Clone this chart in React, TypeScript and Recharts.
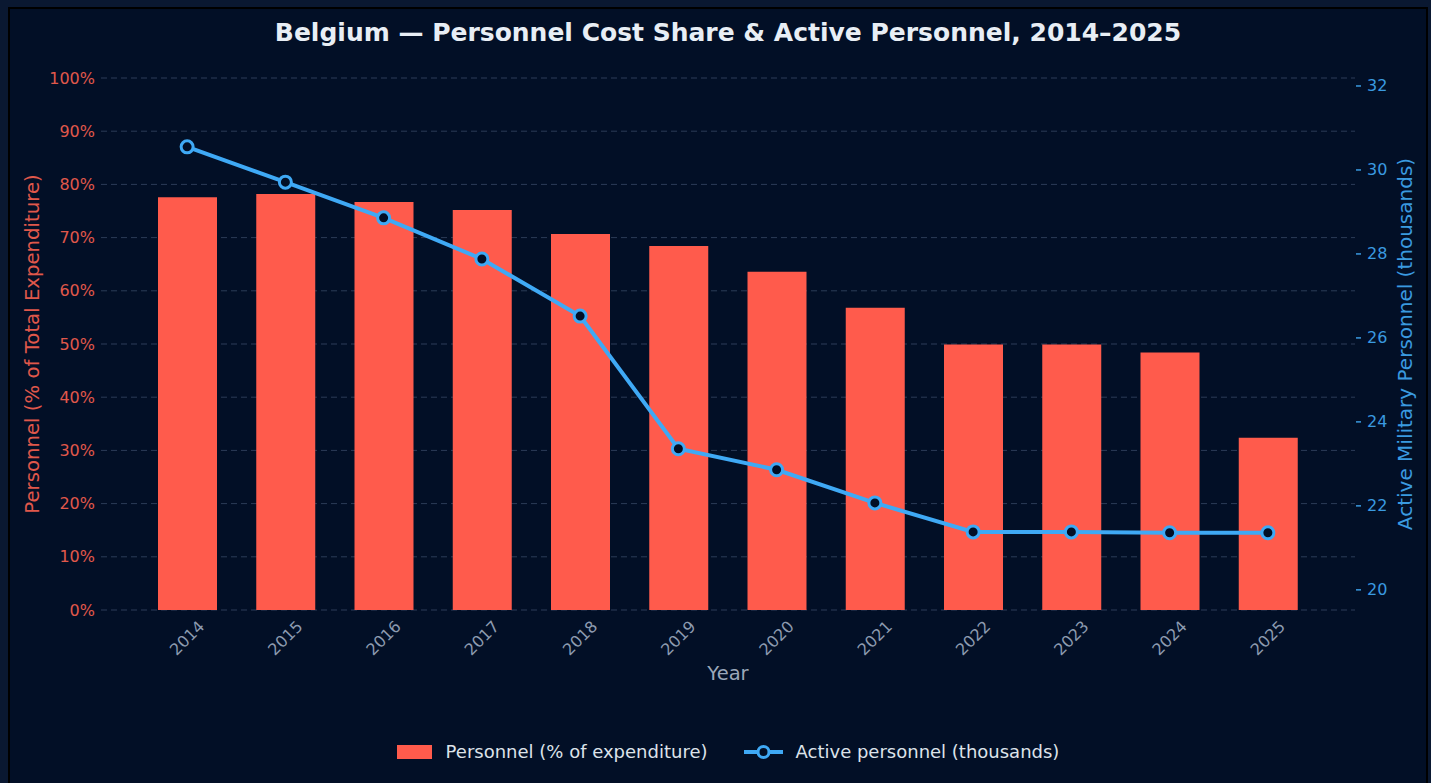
import React from 'react';
import { ComposedChart, Bar, Line, XAxis, YAxis, CartesianGrid } from 'recharts';

const YEARS = ['2014', '2015', '2016', '2017', '2018', '2019', '2020', '2021', '2022', '2023', '2024', '2025'];
// personnel cost as % of total defence expenditure
const PERSONNEL_SHARE = [77.6, 78.2, 76.7, 75.2, 70.7, 68.4, 63.6, 56.8, 49.9, 49.9, 48.4, 32.4];
// active military personnel, thousands
const ACTIVE_PERSONNEL = [30.55, 29.71, 28.86, 27.88, 26.52, 23.36, 22.86, 22.07, 21.38, 21.38, 21.36, 21.36];
const LEFT_TICKS = [0, 10, 20, 30, 40, 50, 60, 70, 80, 90, 100];
const RIGHT_TICKS = [20, 22, 24, 26, 28, 30, 32];

const BG = '#020f26';
const RED = '#ff5b4c';
const RED_TEXT = '#e0584b';
const BLUE = '#3fa9f5';
const BLUE_TEXT = '#3a9ae0';
const GREY = '#8d9bb0';

const data = YEARS.map((year, i) => ({
  year,
  share: PERSONNEL_SHARE[i],
  active: ACTIVE_PERSONNEL[i],
}));

const XTick = (props: any) => {
  const { x, y, payload } = props;
  const cy = y + 28;
  return (
    <text
      x={x}
      y={cy}
      fill={GREY}
      fontSize={16}
      textAnchor="middle"
      dominantBaseline="central"
      transform={`rotate(-45 ${x} ${cy})`}
    >
      {payload.value}
    </text>
  );
};

const RightTick = (props: any) => {
  const { x, y, payload } = props;
  return (
    <g>
      <line x1={x + 1} x2={x + 6} y1={y} y2={y} stroke={BLUE_TEXT} strokeWidth={1.5} />
      <text x={x + 12} y={y} fill={BLUE_TEXT} fontSize={16} textAnchor="start" dominantBaseline="central">
        {payload.value}
      </text>
    </g>
  );
};

const AxisTitle = (props: any) => {
  const { viewBox, text, color, side } = props;
  if (!viewBox) return null;
  if (side === 'bottom') {
    return (
      <text x={viewBox.x + viewBox.width / 2} y={viewBox.y + 63} fill={color} fontSize={19.5}
        textAnchor="middle" dominantBaseline="central">
        {text}
      </text>
    );
  }
  const cx = side === 'left' ? viewBox.x + 32 : viewBox.x + 50;
  const cy = viewBox.y + viewBox.height / 2;
  return (
    <text x={cx} y={cy} fill={color} fontSize={side === 'left' ? 19.7 : 20} textAnchor="middle"
      dominantBaseline="central" transform={`rotate(-90 ${cx} ${cy})`}>
      {text}
    </text>
  );
};

const Dot = (props: any) => {
  const { cx, cy } = props;
  return <circle cx={cx} cy={cy} r={6} fill={BG} stroke={BLUE} strokeWidth={3} />;
};

export default function App() {
  return (
    <div
      style={{
        position: 'absolute',
        left: 0,
        top: 0,
        width: 1431,
        height: 783,
        overflow: 'hidden',
        background: '#0a1831',
        fontFamily: '"DejaVu Sans", sans-serif',
      }}
    >
      <div
        style={{
          position: 'absolute',
          left: 8,
          top: 7,
          width: 1416,
          height: 820,
          border: '2px solid #000',
          background: BG,
        }}
      />
      <div
        style={{
          position: 'absolute',
          top: 15,
          left: 101,
          width: 1254,
          textAlign: 'center',
          color: '#e8eef5',
          fontSize: 25,
          fontWeight: 'bold',
          lineHeight: '36px',
        }}
      >
        Belgium — Personnel Cost Share &amp; Active Personnel, 2014–2025
      </div>

      <div style={{ position: 'absolute', left: 0, top: 0 }}>
        <ComposedChart width={1431} height={783} data={data} margin={{ top: 78, right: 0, bottom: 113, left: 0 }}>
          <CartesianGrid yAxisId="left" vertical={false} stroke="#2c3c58" strokeDasharray="6 4" />
          <XAxis
            dataKey="year"
            height={60}
            padding={{ left: 37, right: 38 }}
            axisLine={false}
            tickLine={false}
            tickSize={0}
            tickMargin={0}
            interval={0}
            tick={<XTick />}
            label={<AxisTitle side="bottom" text="Year" color="#9ba8ba" />}
          />
          <YAxis
            yAxisId="left"
            width={101}
            domain={[0, 100]}
            ticks={LEFT_TICKS}
            tickFormatter={(v: number) => `${v}%`}
            axisLine={false}
            tickLine={false}
            tickSize={0}
            tickMargin={6}
            tick={{ fill: RED_TEXT, fontSize: 16 }}
            label={<AxisTitle side="left" text="Personnel (% of Total Expenditure)" color={RED_TEXT} />}
          />
          <YAxis
            yAxisId="right"
            orientation="right"
            width={76}
            domain={[19.52, 32.19]}
            allowDataOverflow
            ticks={RIGHT_TICKS}
            axisLine={false}
            tickLine={false}
            tickSize={0}
            tickMargin={0}
            tick={<RightTick />}
            label={<AxisTitle side="right" text="Active Military Personnel (thousands)" color={BLUE_TEXT} />}
          />
          <Bar yAxisId="left" dataKey="share" fill={RED} barSize={59} isAnimationActive={false} />
          <Line
            yAxisId="right"
            dataKey="active"
            stroke={BLUE}
            strokeWidth={4}
            dot={<Dot />}
            activeDot={false}
            isAnimationActive={false}
          />
        </ComposedChart>
      </div>

      <div
        style={{
          position: 'absolute',
          top: 741,
          left: 101,
          width: 1254,
          display: 'flex',
          justifyContent: 'center',
          alignItems: 'center',
          color: '#dde3ea',
          fontSize: 18,
        }}
      >
        <div style={{ width: 35, height: 14, background: RED, marginRight: 14 }} />
        <span style={{ marginRight: 35 }}>Personnel (% of expenditure)</span>
        <svg width={41} height={16} style={{ marginRight: 12 }}>
          <line x1={1} x2={40} y1={8} y2={8} stroke={BLUE} strokeWidth={4} />
          <circle cx={20.5} cy={8} r={5.5} fill={BG} stroke={BLUE} strokeWidth={3} />
        </svg>
        <span>Active personnel (thousands)</span>
      </div>
    </div>
  );
}
